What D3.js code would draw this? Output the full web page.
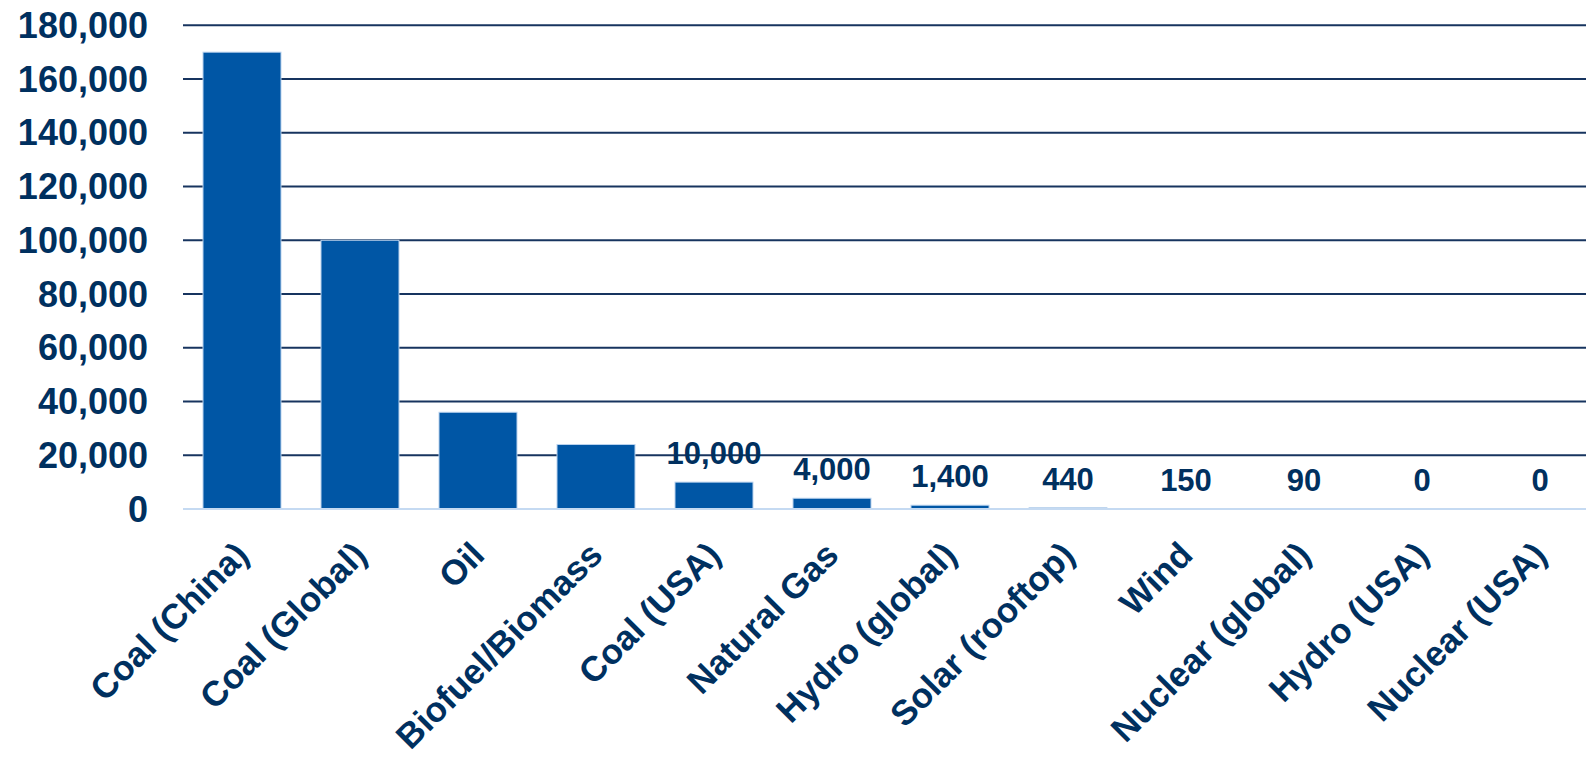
<!DOCTYPE html>
<html>
<head>
<meta charset="utf-8">
<script src="https://cdn.jsdelivr.net/npm/d3@7"></script>
<style>
  html, body { margin: 0; padding: 0; background: #ffffff; }
  svg { display: block; }
  text { font-family: "Liberation Sans", Arial, sans-serif; font-weight: bold; fill: #00305f; }
</style>
</head>
<body>
<svg id="chart" width="1586" height="758"></svg>
<script>
// ---- data ----
const categories = ["Coal (China)", "Coal (Global)", "Oil", "Biofuel/Biomass", "Coal (USA)", "Natural Gas",
                    "Hydro (global)", "Solar (rooftop)", "Wind", "Nuclear (global)", "Hydro (USA)", "Nuclear (USA)"];
const values = [170000, 100000, 36000, 24000, 10000, 4000, 1400, 440, 150, 90, 0, 0];
const valueLabels = [null, null, null, null, "10,000", "4,000", "1,400", "440", "150", "90", "0", "0"];
const yTicks = [0, 20000, 40000, 60000, 80000, 100000, 120000, 140000, 160000, 180000];

// ---- layout ----
const svg = d3.select("#chart");
const plotLeft = 183, plotRight = 1599, plotTop = 25.3, plotBottom = 509;

const x = d3.scaleBand().domain(categories).range([plotLeft, plotRight])
  .paddingInner(0.339).paddingOuter(0.1695);
const y = d3.scaleLinear().domain([0, 180000]).range([plotBottom, plotTop]);

// gridlines (non-zero)
svg.append("g").selectAll("line").data(yTicks.filter(d => d > 0)).join("line")
  .attr("x1", plotLeft).attr("x2", 1586)
  .attr("y1", d => y(d)).attr("y2", d => y(d))
  .attr("stroke", "#17345f").attr("stroke-width", 2);

// bars
svg.append("g").selectAll("rect").data(values).join("rect")
  .attr("x", (d, i) => x(categories[i]))
  .attr("width", x.bandwidth())
  .attr("y", d => y(d))
  .attr("height", d => y(0) - y(d))
  .attr("fill", "#0056a5")
  .attr("stroke", "#b9d2ee").attr("stroke-width", 1);

// baseline
svg.append("line")
  .attr("x1", plotLeft).attr("x2", 1586)
  .attr("y1", y(0)).attr("y2", y(0))
  .attr("stroke", "#c5daf2").attr("stroke-width", 2);

// y axis labels
const fmt = d3.format(",");
svg.append("g").selectAll("text").data(yTicks).join("text")
  .attr("x", 148)
  .attr("y", d => y(d) + 12.5)
  .attr("text-anchor", "end")
  .attr("font-size", 36)
  .text(d => fmt(d));

// value labels
const labelIdx = categories.map((c, i) => i).filter(i => valueLabels[i] !== null);
svg.append("g").selectAll("text").data(labelIdx).join("text")
  .attr("x", i => x(categories[i]) + x.bandwidth() / 2)
  .attr("y", i => y(values[i]) - 18)
  .attr("text-anchor", "middle")
  .attr("font-size", 31)
  .text(i => valueLabels[i]);

// x axis labels (rotated)
svg.append("g").selectAll("text").data(categories).join("text")
  .attr("transform", d => `translate(${x(d) + x.bandwidth() / 2 + 8.5},557) rotate(-45)`)
  .attr("text-anchor", "end")
  .attr("font-size", 35)
  .text(d => d);
</script>
</body>
</html>
